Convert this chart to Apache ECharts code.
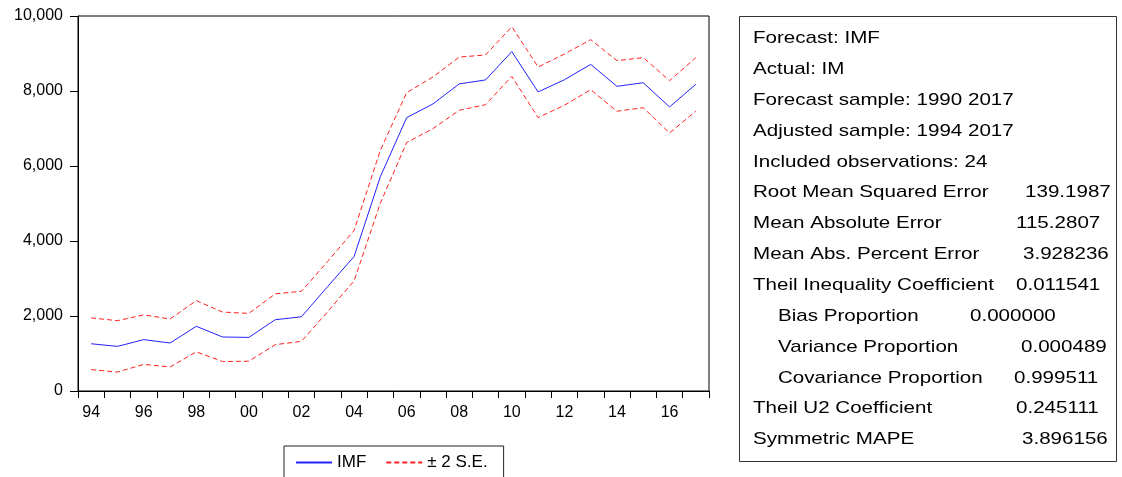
<!DOCTYPE html>
<html>
<head>
<meta charset="utf-8">
<script src="https://cdn.jsdelivr.net/npm/echarts@6/dist/echarts.min.js"></script>
<style>
  html, body { margin: 0; padding: 0; background: #fff; }
  #chart { width: 1122px; height: 477px; }
</style>
</head>
<body>
<div id="chart"></div>
<script>
// Years 1994-2017, labelled with two digits
const years = ['94','95','96','97','98','99','00','01','02','03','04','05',
               '06','07','08','09','10','11','12','13','14','15','16','17'];

// Forecast of IM (IMF)
const imf = [1260, 1190, 1370, 1280, 1725, 1440, 1430, 1900, 1980, 2790, 3585, 5715,
             7290, 7655, 8190, 8295, 9050, 7975, 8300, 8710, 8125, 8220, 7575, 8180];

// Forecast +/- 2 standard errors
const upperBand = [1950, 1875, 2030, 1920, 2410, 2105, 2070, 2590, 2660, 3460, 4280, 6420,
                   7955, 8375, 8905, 8960, 9715, 8640, 8985, 9370, 8810, 8890, 8275, 8890];
const lowerBand = [570, 505, 710, 640, 1045, 785, 795, 1235, 1325, 2120, 2935, 5010,
                   6625, 6995, 7485, 7635, 8390, 7290, 7620, 8035, 7460, 7555, 6880, 7465];

// Forecast evaluation statistics: labels and their values
const statLabels = [
  'Forecast: IMF',
  'Actual: IM',
  'Forecast sample: 1990 2017',
  'Adjusted sample: 1994 2017',
  'Included observations: 24',
  'Root Mean Squared Error',
  'Mean Absolute Error',
  'Mean Abs. Percent Error',
  'Theil Inequality Coefficient',
  'Bias Proportion',
  'Variance Proportion',
  'Covariance Proportion',
  'Theil U2 Coefficient',
  'Symmetric MAPE'
];
const statValues = ['', '', '', '', '', '139.1987', '115.2807', '3.928236', '0.011541',
                    '0.000000', '0.000489', '0.999511', '0.245111', '3.896156'];

// Layout of the statistics panel
const FONT = "'Liberation Sans', Arial, sans-serif";
const boxX = 739, boxY = 16, boxW = 377, boxH = 445;
const rowY0 = 38.5, rowStep = 30.85;
const labelX = 753, indentX = 778;
const textScaleX = 1.21;
const indented = [9, 10, 11];
const valueX = { 5: 1025, 6: 1016, 7: 1023, 8: 1016, 9: 970, 10: 1021, 11: 1014, 12: 1016, 13: 1022 };

function panelText(str, x, y) {
  return {
    type: 'text', x: x, y: y, scaleX: textScaleX,
    style: { text: str, font: '17px ' + FONT, fill: '#000', verticalAlign: 'middle' },
    silent: true
  };
}

const graphics = [{
  type: 'rect',
  shape: { x: boxX + 0.5, y: boxY + 0.5, width: boxW, height: boxH },
  style: { fill: '#fff', stroke: '#333', lineWidth: 1 },
  silent: true
}];
statLabels.forEach((lab, i) => {
  const y = rowY0 + i * rowStep;
  graphics.push(panelText(lab, indented.includes(i) ? indentX : labelX, y));
  if (statValues[i]) graphics.push(panelText(statValues[i], valueX[i], y));
});

const chart = echarts.init(document.getElementById('chart'), null, { renderer: 'canvas' });
const bandStyle = { color: '#ff2020', width: 1, type: [5, 3] };

chart.setOption({
  animation: false,
  backgroundColor: '#fff',
  textStyle: { fontFamily: FONT },
  grid: {
    left: 78, top: 16, right: 413, bottom: 86,
    show: true, borderColor: '#000', borderWidth: 1, backgroundColor: 'transparent'
  },
  legend: {
    left: 284, top: 446,
    padding: [8, 16, 8, 11],
    itemGap: 19,
    itemWidth: 36, itemHeight: 14,
    borderColor: '#222', borderWidth: 1,
    itemStyle: { opacity: 0 },
    textStyle: { fontSize: 17, color: '#000', fontFamily: FONT },
    data: ['IMF', '± 2 S.E.']
  },
  xAxis: {
    type: 'category',
    data: years,
    boundaryGap: true,
    axisLine: { lineStyle: { color: '#000', width: 1 } },
    axisTick: { show: true, interval: 0, length: 7, lineStyle: { color: '#000' } },
    axisLabel: { interval: 1, fontSize: 16, color: '#000', margin: 14, fontFamily: FONT },
    splitLine: { show: false }
  },
  yAxis: {
    type: 'value',
    min: 0, max: 10000, interval: 2000,
    axisLine: { show: true, lineStyle: { color: '#000', width: 1 } },
    axisTick: { show: true, length: 8, lineStyle: { color: '#000' } },
    axisLabel: {
      fontSize: 16, color: '#000', margin: 15, fontFamily: FONT,
      padding: [0, 0, 4, 0],
      formatter: v => v.toLocaleString('en-US')
    },
    splitLine: { show: false }
  },
  series: [
    {
      name: 'IMF', type: 'line', data: imf,
      symbol: 'none', showSymbol: false,
      lineStyle: { color: '#2222ff', width: 1 },
      itemStyle: { color: '#2222ff' }
    },
    {
      name: '± 2 S.E.', type: 'line', data: upperBand,
      symbol: 'none', showSymbol: false,
      lineStyle: bandStyle, itemStyle: { color: '#ff2020' }
    },
    {
      name: '± 2 S.E.', type: 'line', data: lowerBand,
      symbol: 'none', showSymbol: false,
      lineStyle: bandStyle, itemStyle: { color: '#ff2020' }
    }
  ],
  graphic: graphics
});
</script>
</body>
</html>
